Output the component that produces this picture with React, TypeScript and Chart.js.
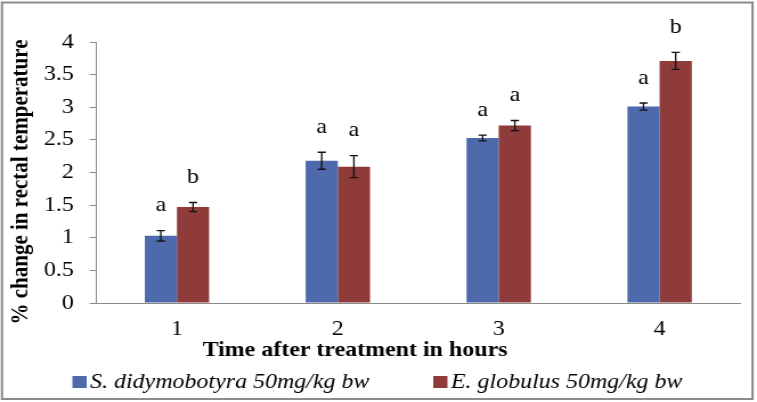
import React, { useEffect, useRef } from "react";
import { Chart, registerables } from "chart.js";

Chart.register(...registerables);

// ---- data ----
const categories = ["1", "2", "3", "4"];
const seriesNames = ["S. didymobotyra 50mg/kg bw", "E. globulus 50mg/kg bw"];
const sdValues = [1.03, 2.18, 2.53, 3.01];
const sdErrors = [0.08, 0.13, 0.044, 0.055];
const egValues = [1.47, 2.09, 2.72, 3.71];
const egErrors = [0.07, 0.17, 0.077, 0.13];
const sdLetters = ["a", "a", "a", "a"];
const egLetters = ["b", "a", "a", "b"];
const yTickValues = [0, 0.5, 1, 1.5, 2, 2.5, 3, 3.5, 4];
const yTickLabels = ["0", "0.5", "1", "1.5", "2", "2.5", "3", "3.5", "4"];
const xTitle = "Time after treatment in hours";
const yTitle = "% change in rectal temperature";

// ---- styling ----
const W = 757;
const H = 402;
const SX = 1.14; // horizontal stretch of the reference
const IW = Math.round(W / SX);
const FONT = "'Liberation Serif', 'Times New Roman', serif";
const BLUE = "#4F69AD";
const RED = "#8E3B3A";
const AXIS = "#8a8a8a";

const errorBars = [sdErrors, egErrors];
const letters = [sdLetters, egLetters];

const decorPlugin = {
  id: "decor",
  beforeDraw(chart: any) {
    const ctx = chart.ctx;
    ctx.save();
    ctx.fillStyle = "#ffffff";
    ctx.fillRect(0, 0, chart.width, chart.height);
    ctx.restore();
  },
  afterDatasetsDraw(chart: any) {
    const ctx = chart.ctx;
    const yScale = chart.scales.y;
    ctx.save();
    chart.data.datasets.forEach((ds: any, di: number) => {
      const meta = chart.getDatasetMeta(di);
      meta.data.forEach((bar: any, i: number) => {
        const v = ds.data[i];
        const e = errorBars[di][i];
        const x = bar.x;
        const yTop = yScale.getPixelForValue(v + e);
        const yBot = yScale.getPixelForValue(v - e);
        const cap = 3.6;
        ctx.strokeStyle = "#111";
        ctx.lineWidth = 1.3;
        ctx.beginPath();
        ctx.moveTo(x, yTop);
        ctx.lineTo(x, yBot);
        ctx.moveTo(x - cap, yTop);
        ctx.lineTo(x + cap, yTop);
        ctx.moveTo(x - cap, yBot);
        ctx.lineTo(x + cap, yBot);
        ctx.stroke();
        ctx.fillStyle = "#000";
        ctx.font = `21px ${FONT}`;
        ctx.textAlign = "center";
        ctx.textBaseline = "middle";
        ctx.fillText(letters[di][i], x, yTop - 25);
      });
    });
    ctx.restore();
  },
  afterDraw(chart: any) {
    const ctx = chart.ctx;
    const area = chart.chartArea;
    ctx.save();
    // y title
    ctx.fillStyle = "#000";
    ctx.font = `bold 21px ${FONT}`;
    ctx.textAlign = "center";
    ctx.textBaseline = "middle";
    ctx.translate(18.4, 182);
    ctx.rotate(-Math.PI / 2);
    ctx.fillText(yTitle, 0, 0);
    ctx.restore();

    ctx.save();
    // x title
    ctx.fillStyle = "#000";
    ctx.font = `bold 21px ${FONT}`;
    ctx.textAlign = "center";
    ctx.textBaseline = "alphabetic";
    ctx.fillText(xTitle, (area.left + area.right) / 2 - 55.5, 356);

    // legend
    ctx.font = `italic 21px ${FONT}`;
    ctx.textAlign = "left";
    const boxW = 12.5;
    const boxH = 12;
    const gap = 3;
    const spacing = 56;
    const colors = [BLUE, RED];
    const widths = seriesNames.map((t) => ctx.measureText(t).width);
    const total = widths.reduce((s, w) => s + boxW + gap + w, 0) + spacing * (widths.length - 1);
    let x = chart.width / 2 - total / 2 - 1;
    seriesNames.forEach((t, i) => {
      ctx.fillStyle = colors[i];
      ctx.fillRect(x, 376, boxW, boxH);
      ctx.fillStyle = "#000";
      ctx.fillText(t, x + boxW + gap, 388);
      x += boxW + gap + widths[i] + spacing;
    });

    // outer frame
    ctx.strokeStyle = "#8c8c8c";
    ctx.lineWidth = 2;
    ctx.strokeRect(2 / SX, 2.5, chart.width - 4 / SX - 2.5 / SX, 396.5);
    ctx.restore();
  },
};

export default function App() {
  const ref = useRef<HTMLCanvasElement | null>(null);
  useEffect(() => {
    if (!ref.current) return;
    const chart = new Chart(ref.current, {
      type: "bar",
      data: {
        labels: categories,
        datasets: [
          {
            label: seriesNames[0],
            data: sdValues,
            backgroundColor: BLUE,
            categoryPercentage: 0.4,
            barPercentage: 1.0,
          },
          {
            label: seriesNames[1],
            data: egValues,
            backgroundColor: RED,
            categoryPercentage: 0.4,
            barPercentage: 1.0,
          },
        ],
      },
      options: {
        animation: false,
        responsive: false,
        devicePixelRatio: 1,
        events: [],
        layout: { padding: { left: 0, top: 42, right: IW - 740 / SX, bottom: 0 } },
        plugins: {
          legend: { display: false },
          tooltip: { enabled: false },
          title: { display: false },
        },
        scales: {
          x: {
            grid: { display: false },
            border: { display: true, color: AXIS, width: 1 },
            ticks: { color: "#000", font: { family: FONT, size: 21 }, padding: 6 },
            afterFit: (s: any) => {
              s.height = H - 303;
            },
          },
          y: {
            min: 0,
            max: 4,
            afterBuildTicks: (s: any) => {
              s.ticks = yTickValues.map((v) => ({ value: v }));
            },
            ticks: {
              color: "#000",
              font: { family: FONT, size: 21 },
              padding: 14,
              callback: (v: any) => {
                const idx = yTickValues.indexOf(Number(v));
                return idx >= 0 ? yTickLabels[idx] : String(v);
              },
            },
            grid: {
              display: true,
              drawOnChartArea: false,
              drawTicks: true,
              tickLength: 6,
              color: AXIS,
            },
            border: { display: true, color: AXIS, width: 1 },
            afterFit: (s: any) => {
              s.width = 96.5 / SX;
            },
          },
        },
      },
      plugins: [decorPlugin],
    });
    return () => chart.destroy();
  }, []);

  return (
    <div style={{ position: "absolute", left: 0, top: 0, width: W, height: H }}>
      <canvas
        ref={ref}
        width={IW}
        height={H}
        style={{ width: `${W}px`, height: `${H}px`, display: "block" }}
      />
    </div>
  );
}
